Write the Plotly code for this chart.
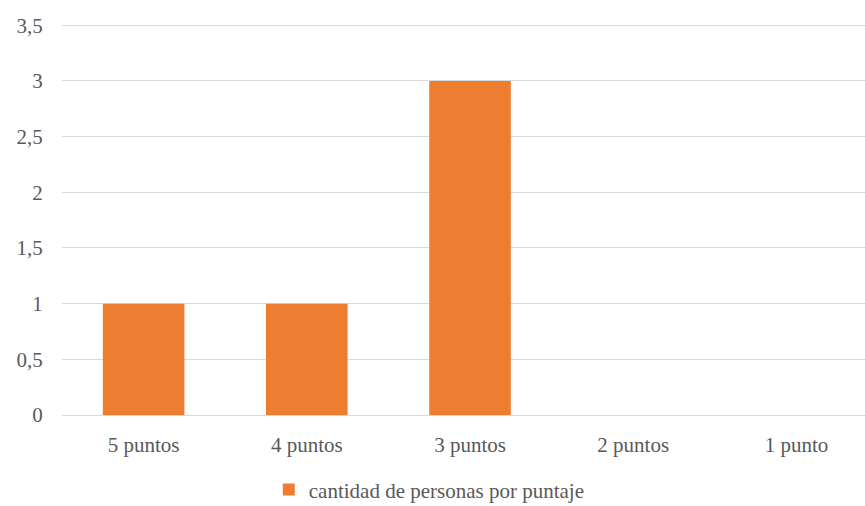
import plotly.graph_objects as go

categories = ["5 puntos", "4 puntos", "3 puntos", "2 puntos", "1 punto"]
values = [1, 1, 3, 0, 0]
series_name = "cantidad de personas por puntaje"
y_ticks = [0, 0.5, 1, 1.5, 2, 2.5, 3, 3.5]

FONT = "Times New Roman, Liberation Serif, Tinos, serif"
GRAY = "#595959"

fig = go.Figure()
fig.add_trace(go.Bar(
    x=list(range(len(categories))),
    y=values,
    name=series_name,
    marker=dict(color="#ED7D31", line=dict(width=0)),
    showlegend=True,
))

fig.update_layout(
    width=865, height=506,
    margin=dict(l=62, r=0, t=23, b=91, autoexpand=False),
    paper_bgcolor="white", plot_bgcolor="white",
    separators=",.",
    bargap=0.5,
    font=dict(family=FONT, size=21, color=GRAY),
    showlegend=True,
    legend=dict(orientation="h", x=0.2575, xanchor="left",
                yref="container", y=0.032, yanchor="middle",
                font=dict(family=FONT, size=21, color=GRAY),
                itemwidth=30, bgcolor="rgba(0,0,0,0)"),
)
fig.update_xaxes(
    tickmode="array", tickvals=list(range(len(categories))), ticktext=categories,
    range=[-0.5, 4.42], showgrid=False, zeroline=False, showline=False,
    ticks="outside", ticklen=11, tickcolor="rgba(0,0,0,0)",
    tickfont=dict(family=FONT, size=21, color=GRAY),
)
fig.update_yaxes(
    range=[0, 3.52], tickmode="array", tickvals=y_ticks,
    showgrid=True, gridcolor="#D9D9D9", gridwidth=1,
    zeroline=True, zerolinecolor="#D9D9D9", zerolinewidth=1,
    showline=False, ticks="outside", ticklen=14, tickcolor="rgba(0,0,0,0)",
    tickfont=dict(family=FONT, size=21, color=GRAY),
)

fig.write_html("out.html")
